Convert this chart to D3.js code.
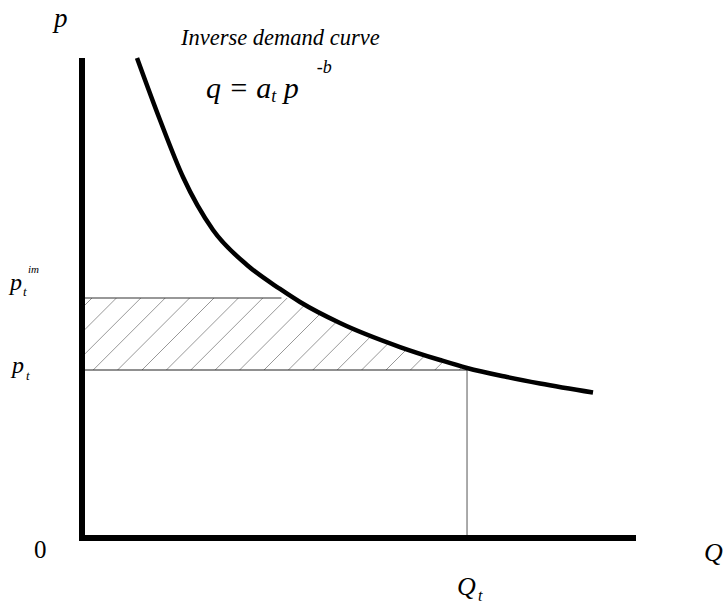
<!DOCTYPE html>
<html>
<head>
<meta charset="utf-8">
<script src="https://cdn.jsdelivr.net/npm/d3@7"></script>
</head>
<body style="margin:0">
<svg id="chart" width="723" height="609" font-family="Liberation Serif"></svg>
<script>
// Inverse demand curve, sampled as (quantity, price) pairs
const curveQ = [9.93, 14.08, 18.23, 23.65, 29.78, 35.74, 39.35, 46.57, 57.40, 64.62, 69.49, 76.71, 82.67, 92.24];
const curveP = [100, 87.08, 75.21, 64.17, 56.88, 51.88, 49.17, 44.79, 39.79, 37.08, 35.42, 33.54, 32.19, 30.31];

// Market levels
const priceT = 35;        // p_t
const priceIm = 50;       // p_t^im
const quantityT = 69.5;   // Q_t
const imLineEnd = 36;     // where the p_t^im guide stops

const svg = d3.select("#chart");

const x = d3.scaleLinear().domain([0, 100]).range([82, 636]);
const y = d3.scaleLinear().domain([0, 100]).range([538, 58]);

const curve = curveQ.map((q, i) => [q, curveP[i]]);
const curveLine = d3.line().x(d => x(d[0])).y(d => y(d[1])).curve(d3.curveMonotoneX);

// Hatched region: between p_t and p_t^im, bounded on the right by the curve
const clip = svg.append("clipPath").attr("id", "hatch-clip");
clip.append("rect")
  .attr("x", x(0)).attr("y", y(priceIm))
  .attr("width", x(quantityT) - x(0)).attr("height", y(priceT) - y(priceIm))
  .attr("clip-path", "url(#under-curve)");
// area to the left of / below the curve
svg.append("clipPath").attr("id", "under-curve")
  .append("path")
  .attr("d", curveLine(curve) + `L${x(curveQ[curveQ.length - 1])},${y(0)}L${x(0)},${y(0)}L${x(0)},${y(100)}Z`);

const hatch = svg.append("g").attr("clip-path", "url(#hatch-clip)");
const yTop = y(priceIm), yBottom = y(priceT);
const span = yBottom - yTop;
const step = 24.4;
for (let bx = x(0) - span + 10; bx < x(quantityT) + step; bx += step) {
  hatch.append("line")
    .attr("x1", bx).attr("y1", yBottom)
    .attr("x2", bx + span).attr("y2", yTop)
    .attr("stroke", "#858585").attr("stroke-width", 0.85);
}

// Guide lines
svg.append("line")
  .attr("x1", x(0)).attr("x2", x(imLineEnd))
  .attr("y1", y(priceIm)).attr("y2", y(priceIm))
  .attr("stroke", "#333").attr("stroke-width", 1.2);
svg.append("line")
  .attr("x1", x(0)).attr("x2", x(quantityT))
  .attr("y1", y(priceT)).attr("y2", y(priceT))
  .attr("stroke", "#222").attr("stroke-width", 1.2);
svg.append("line")
  .attr("x1", x(quantityT)).attr("x2", x(quantityT))
  .attr("y1", y(priceT)).attr("y2", y(0))
  .attr("stroke", "#555").attr("stroke-width", 1);

// Demand curve
svg.append("path")
  .datum(curve)
  .attr("d", curveLine)
  .attr("fill", "none").attr("stroke", "#000").attr("stroke-width", 4.5);

// Axes
svg.append("path")
  .attr("d", `M${x(0)},${y(100)}L${x(0)},${y(0)}L${x(100)},${y(0)}`)
  .attr("fill", "none").attr("stroke", "#000").attr("stroke-width", 6)
  .attr("stroke-linejoin", "miter");

// Labels
function label(t, px, py, size, italic) {
  return svg.append("text").attr("x", px).attr("y", py)
    .attr("font-family", "Liberation Serif")
    .attr("font-size", size).attr("font-style", italic ? "italic" : "normal").text(t);
}
label("p", 54, 27, 27, true);
label("Inverse demand curve", 181, 45, 22.5, true);

const f = svg.append("text").attr("x", 206).attr("y", 98)
  .attr("font-family", "Liberation Serif").attr("font-size", 30).attr("font-style", "italic");
f.append("tspan").text("q = a");
f.append("tspan").attr("font-size", 18).attr("dy", 4).text("t");
f.append("tspan").attr("dy", -4).text(" p");
f.append("tspan").attr("font-size", 18).attr("dy", -25).attr("dx", 18).text("-b");

// p_t^im
label("p", 10, 290, 24, true);
label("t", 23, 296, 13, true);
label("im", 28, 273, 11, true);
// p_t
label("p", 12, 373, 24, true);
label("t", 26, 380, 13, true);

label("0", 34, 558, 25, false);

label("Q", 457, 595, 26, true);
label("t", 478, 601, 16, true);
label("Q", 704, 561, 26, true);
</script>
</body>
</html>
